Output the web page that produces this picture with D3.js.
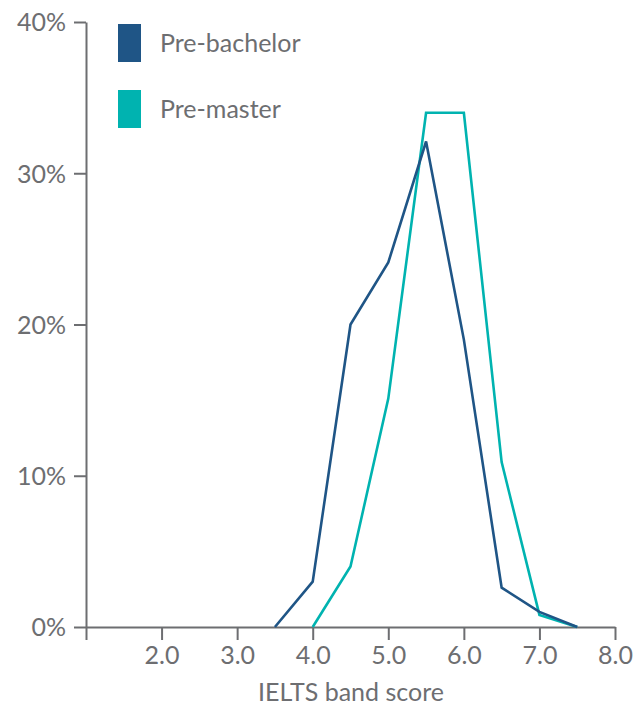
<!DOCTYPE html>
<html><head><meta charset="utf-8">
<script src="https://cdn.jsdelivr.net/npm/d3@7"></script>
<style>body{margin:0;background:#fff}svg{display:block}</style>
</head><body>
<svg id="chart" width="634" height="707"></svg>
<script>
const scores = [3.5, 4.0, 4.5, 5.0, 5.5, 6.0, 6.5, 7.0, 7.5];
const preBachelor = [0, 3.0, 20.0, 24.1, 32.1, 19.0, 2.6, 1.0, 0];
const preMasterScores = [4.0, 4.5, 5.0, 5.5, 6.0, 6.5, 7.0, 7.5];
const preMaster = [0, 4.0, 15.1, 34.0, 34.0, 10.9, 0.8, 0];
const xTicks = [1, 2, 3, 4, 5, 6, 7, 8];
const yTicks = [0, 10, 20, 30, 40];
const seriesNames = ["Pre-bachelor", "Pre-master"];
const colors = ["#1f5586", "#00b3b0"];

const gray = "#6d6e71";
const font = "Lato, 'Open Sans', sans-serif";
const svg = d3.select("#chart");
const x = d3.scaleLinear().domain([1, 8]).range([86, 615]);
const y = d3.scaleLinear().domain([0, 40]).range([627, 22]);

const xAxis = svg.append("g").attr("transform", `translate(0,${y(0)})`)
  .call(d3.axisBottom(x).tickValues(xTicks).tickSize(13).tickSizeOuter(0)
    .tickFormat(d => d === 1 ? "" : d3.format(".1f")(d)));
const yAxis = svg.append("g").attr("transform", `translate(${x(1)},0)`)
  .call(d3.axisLeft(y).tickValues(yTicks).tickSize(12).tickSizeOuter(0)
    .tickFormat(d => d + "%"));
[xAxis, yAxis].forEach(g => {
  g.selectAll("path, line").attr("stroke", gray).attr("stroke-width", 2);
  g.selectAll("text").attr("fill", gray).attr("font-family", font).attr("font-size", 25);
});
xAxis.selectAll("text").attr("dy", "0.35em").attr("y", 28);
yAxis.selectAll("text").attr("x", -20).attr("dy", "0.35em");

const line = d3.line().x(d => x(d[0])).y(d => y(d[1]));
const data = [
  scores.map((s, i) => [s, preBachelor[i]]),
  preMasterScores.map((s, i) => [s, preMaster[i]])
];
[1, 0].forEach(i => {
  svg.append("path").datum(data[i]).attr("d", line)
    .attr("fill", "none").attr("stroke", colors[i]).attr("stroke-width", 2.6)
    .attr("stroke-linejoin", "miter");
});

seriesNames.forEach((n, i) => {
  const g = svg.append("g").attr("transform", `translate(118,${24 + i * 66})`);
  g.append("rect").attr("width", 23).attr("height", 38).attr("fill", colors[i]);
  g.append("text").attr("x", 42).attr("y", 19).attr("dy", "0.35em")
    .attr("fill", gray).attr("font-family", font).attr("font-size", 25).text(n);
});

svg.append("text").attr("x", 351).attr("y", 692).attr("dy", "0.35em")
  .attr("text-anchor", "middle").attr("fill", gray).attr("font-family", font)
  .attr("font-size", 25).text("IELTS band score");
</script>
</body></html>
